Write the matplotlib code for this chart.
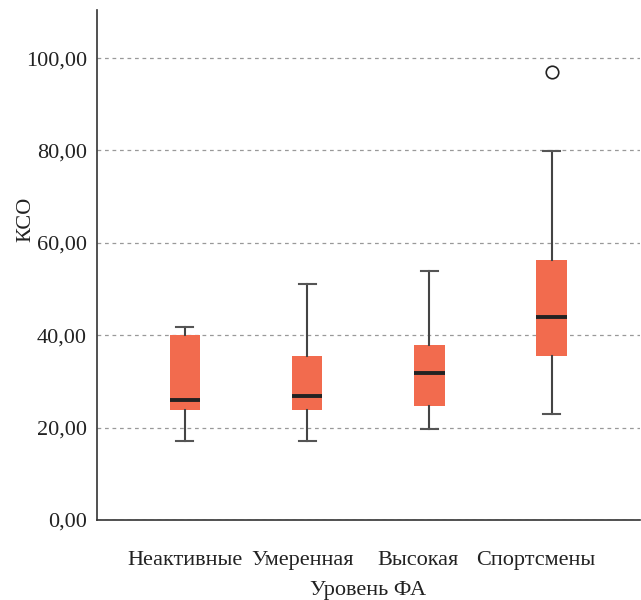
import matplotlib
matplotlib.use("Agg")
import matplotlib.pyplot as plt
import matplotlib.transforms as mtransforms
from matplotlib.ticker import FuncFormatter

# values
groups = ["Неактивные", "Умеренная", "Высокая", "Спортсмены"]
whislo = [17.0, 17.0, 19.8, 22.9]
q1 = [23.8, 23.8, 24.7, 35.6]
med = [26.0, 26.8, 31.9, 44.0]
q3 = [40.0, 35.5, 37.9, 56.3]
whishi = [41.8, 51.1, 54.0, 79.9]
fliers = [[], [], [], [96.9]]

yticks = [0, 20, 40, 60, 80, 100]

plt.rcParams['font.family'] = ['Liberation Serif', 'DejaVu Serif']

fig = plt.figure(figsize=(6.41, 6.0), dpi=100)
ax = fig.add_axes([0.151, 0.1333, 0.847, 0.85])

stats = []
for i in range(len(groups)):
    stats.append(dict(label=groups[i], whislo=whislo[i], q1=q1[i], med=med[i],
                      q3=q3[i], whishi=whishi[i], fliers=fliers[i]))

ax.bxp(stats, positions=range(len(groups)), widths=0.25, patch_artist=True,
       boxprops=dict(facecolor='#f26b4e', edgecolor='none'),
       medianprops=dict(color='#222222', linewidth=2.8),
       whiskerprops=dict(color='#444444', linewidth=1.5),
       capprops=dict(color='#555555', linewidth=1.5),
       capwidths=0.14,
       flierprops=dict(marker='o', markerfacecolor='white', markeredgecolor='#222222',
                       markersize=9, markeredgewidth=1.2),
       zorder=3)

ax.set_xlim(-0.72, 3.72)
ax.set_ylim(0, 110.4)
ax.set_yticks(yticks)
ax.yaxis.set_major_formatter(FuncFormatter(lambda v, p: ("%.2f" % v).replace('.', ',')))
ax.set_xticks(range(len(groups)))
ax.set_xticklabels(groups)

ax.grid(axis='y', linestyle=(0, (3, 3)), color='#999999', linewidth=0.9, zorder=0)
ax.set_axisbelow(True)

for s in ['top', 'right']:
    ax.spines[s].set_visible(False)
for s in ['left', 'bottom']:
    ax.spines[s].set_color('#333333')
    ax.spines[s].set_linewidth(1.2)

ax.tick_params(axis='both', length=0, labelsize=16, colors='#222222')
ax.tick_params(axis='y', pad=7)
ax.tick_params(axis='x', pad=22)

# in the reference the category labels drift a little to the left
shifts = [0, -5, -11, -16]
for lab, dx in zip(ax.get_xticklabels(), shifts):
    lab.set_transform(lab.get_transform() + mtransforms.ScaledTranslation(dx / 100, 0, fig.dpi_scale_trans))

ax.set_ylabel("КСО", fontsize=16, color='#222222')
ax.yaxis.set_label_coords(-0.113, 0.59)
ax.set_xlabel("Уровень ФА", fontsize=16, color='#222222', labelpad=8)

fig.savefig("out.png", dpi=100)
